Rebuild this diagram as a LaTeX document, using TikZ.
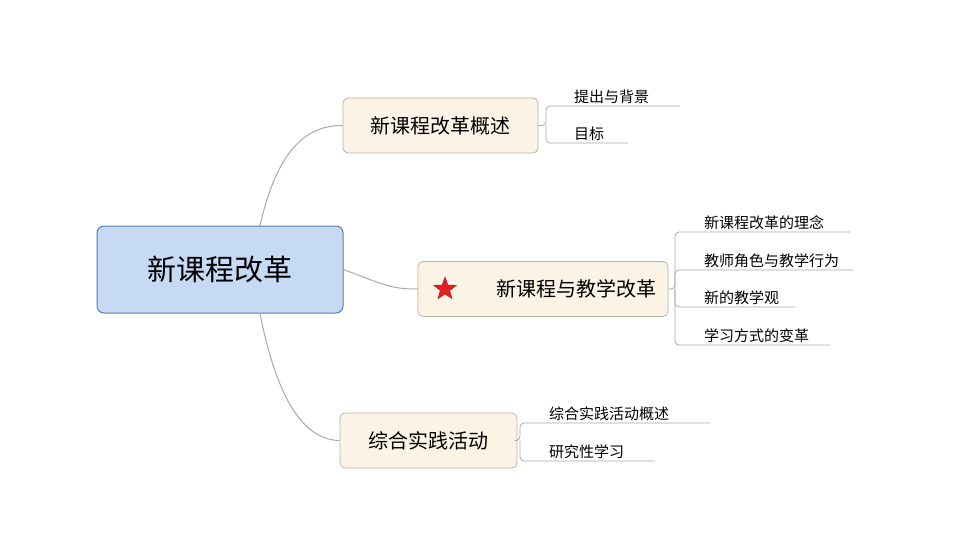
\documentclass[tikz,border=0pt]{standalone}
\usepackage{fontspec}
\setmainfont{Noto Sans CJK SC}
\usetikzlibrary{positioning,shapes.geometric}
\definecolor{root-fill}{HTML}{C6DAF3}
\definecolor{root-draw}{HTML}{5A7FAE}
\definecolor{topic-fill}{HTML}{FBF3E6}
\definecolor{topic-draw}{HTML}{BDB3A3}
\definecolor{line-color}{HTML}{A8A8A8}
\definecolor{star-color}{HTML}{E02020}
\begin{document}
\begin{tikzpicture}[x=1pt, y=-1pt,
                every node/.append style={align=center, inner sep=0pt},
                root/.style={draw=root-draw, fill=root-fill, rounded corners=7pt, line width=1pt,
                             minimum width=246pt, minimum height=87pt, font=\fontsize{29}{32}\selectfont},
                topic/.style={draw=topic-draw, fill=topic-fill, rounded corners=5pt, line width=.8pt,
                              minimum height=55pt, font=\fontsize{20}{24}\selectfont},
                leaf/.style={anchor=south west, font=\fontsize{15}{18}\selectfont, inner sep=2pt},
                conn/.style={draw=line-color, line width=1pt},
                twig/.style={draw=line-color, line width=.8pt, rounded corners=4pt},
                redstar/.style={star, star points=5, star point ratio=2.4, fill=star-color, draw=star-color!80!black,
                             minimum size=24pt}]
    \useasboundingbox (0,0) rectangle (979,536);

    % centre and main topics
    \node [root] (R) at (220,269.5) {新课程改革};
    \node [topic, minimum width=195pt] (A) at (440.5,125.5) {新课程改革概述};
    \node [topic, minimum width=250pt, text width=226pt, align=right] (B) at (543,289) {新课程与教学改革};
    \node [redstar] (S) at (445,289) {};
    \node [topic, minimum width=177pt] (C) at (428.5,440.5) {综合实践活动};

    \draw [conn] (R.north) ++(40,0) coordinate (r1) .. controls (275,160) and (300,125) .. (A.west);
    \draw [conn] (R.east) .. controls (385,285) and (390,289) .. (B.west);
    \draw [conn] (R.south) ++(40,0) coordinate (r3) .. controls (275,390) and (300,440) .. (C.west);

    % leaves of the first topic
    \coordinate (a1) at (680,106);
    \coordinate (a2) at (628,143);
    \draw [twig] (A.east) -- (546,125.5) |- (a1);
    \draw [twig] (546,125.5) |- (a2);
    \node [leaf] (a1t) at (572,106) {提出与背景};
    \node [leaf] (a2t) at (572,143) {目标};

    % leaves of the second topic
    \coordinate (b1) at (850,232);
    \coordinate (b2) at (853,270);
    \coordinate (b3) at (795,307);
    \coordinate (b4) at (830,345);
    \draw [twig] (B.east) -- (675,289) |- (b1);
    \draw [twig] (675,289) |- (b2);
    \draw [twig] (675,289) |- (b3);
    \draw [twig] (675,289) |- (b4);
    \node [leaf] (b1t) at (702,232) {新课程改革的理念};
    \node [leaf] (b2t) at (702,270) {教师角色与教学行为};
    \node [leaf] (b3t) at (702,307) {新的教学观};
    \node [leaf] (b4t) at (702,345) {学习方式的变革};

    % leaves of the third topic
    \coordinate (c1) at (710,423);
    \coordinate (c2) at (655,461);
    \draw [twig] (C.east) -- (520,440.5) |- (c1);
    \draw [twig] (520,440.5) |- (c2);
    \node [leaf] (c1t) at (547,423) {综合实践活动概述};
    \node [leaf] (c2t) at (547,461) {研究性学习};
\end{tikzpicture}
\end{document}
